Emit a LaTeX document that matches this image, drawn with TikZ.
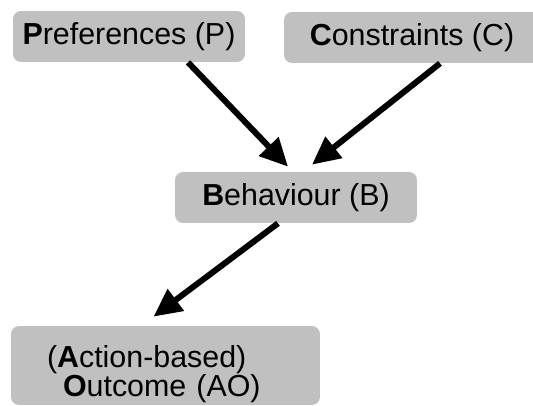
\documentclass[tikz,border=0pt]{standalone}
\usepackage{fontspec}
\setmainfont{Liberation Sans}
\usetikzlibrary{arrows.meta,calc}
\definecolor{boxgrey}{RGB}{192,192,192}

\begin{document}
\begin{tikzpicture}
		[x=0.02cm,y=-0.02cm,
		 greybox/.style= {rounded corners=0.16cm,fill=boxgrey,inner sep=0pt,minimum height=1.02cm,
		                  font=\fontsize{17.3pt}{16.5pt}\selectfont},
		 branch/.style= {-{Triangle[length=0.56cm,width=0.52cm]},line width=0.12cm}]

		\useasboundingbox (0,0) rectangle (533,405);

		\node[greybox,minimum width=4.64cm] (P) at (129,36.5) {\textbf{P}references (P)};
		\node[greybox,minimum width=5.12cm] (C) at (412,37.5) {\textbf{C}onstraints (C)};
		\node[greybox,minimum width=4.84cm] (B) at (296,197.5) {\textbf{B}ehaviour (B)};
		\node[greybox,minimum height=1.58cm,text width=4.74cm,inner xsep=0.72cm,align=left]
			(AO) at (165.5,365.5) {\rule{0pt}{0.78cm}(\textbf{A}ction-based)\\\hspace*{0.32cm}\textbf{O}utcome (AO)};

		\draw[branch] ($(P.south)+(59,0)$) -- ($(B.north)+(-8,-5)$);
		\draw[branch] ($(C.south)+(28,0)$) -- ($(B.north)+(16,-7)$);
		\draw[branch] ($(B.south)+(-18,0)$) -- ($(AO.north)+(-12,-9)$);

	\end{tikzpicture}
\end{document}
